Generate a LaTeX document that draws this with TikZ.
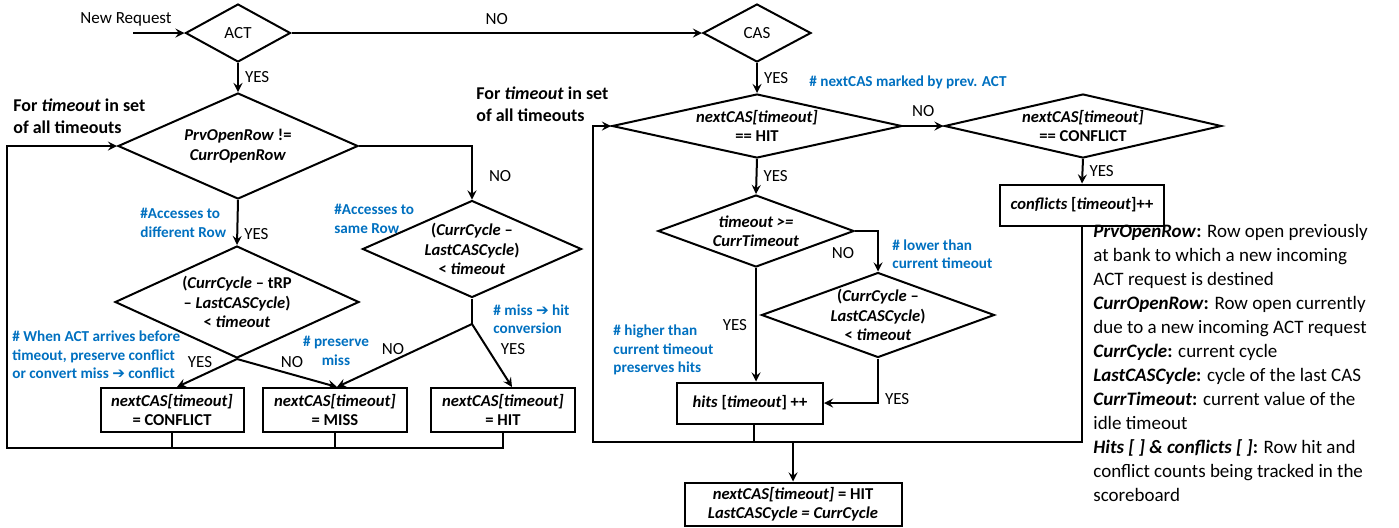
\documentclass[tikz,border=0pt]{standalone}
\usepackage{fontspec}
\setmainfont{Carlito}
\newfontfamily\symfont{DejaVu Sans}
\usetikzlibrary{shapes.geometric}
\definecolor{noteblue}{RGB}{0,112,192}
\newcommand{\harrow}{{\symfont\bfseries ➔}}
\tikzset{
  decision/.style n args={3}{diamond, draw, line width=1pt, inner sep=-6pt, align=center,
    minimum width=#1pt, minimum height=#2pt, aspect=#3,
    font=\fontsize{8.3}{9.75}\selectfont\bfseries},
  process/.style={rectangle, draw, line width=1pt, inner sep=1pt, align=center,
    font=\fontsize{8.3}{9.75}\selectfont\bfseries},
  lbl/.style={font=\fontsize{8.5}{10}\selectfont, inner sep=0pt},
  note/.style={text=noteblue, align=left, inner sep=0pt,
    font=\fontsize{7.6}{9.25}\selectfont\bfseries},
  looptitle/.style={align=left, inner sep=0pt, font=\fontsize{9}{11}\selectfont\bfseries},
  link/.style={line width=1pt},
}
\begin{document}
\begin{tikzpicture}[x=0.5pt, y=-0.5pt, >=stealth]
\useasboundingbox (0,0) rectangle (1399,527);

% ACT branch
\node[lbl] (newreq) at (126,19) {New Request};
\coordinate (start) at (133,33);
\node[decision={52.5}{29}{1.81}, font=\fontsize{8.5}{10}\selectfont] (act) at (238,33) {ACT};
\node[decision={54}{29}{1.86}, font=\fontsize{8.5}{10}\selectfont] (cas) at (757,33) {CAS};

\node[looptitle, anchor=west] (forone) at (13,116) {For \textit{timeout} in set\\of all timeouts};
\node[decision={120}{53}{2.26}] (rowcmp) at (238,146)
  {\textit{PrvOpenRow} !=\\\textit{CurrOpenRow}};
\node[decision={122}{56}{2.18}] (actconf) at (237,302)
  {(\textit{CurrCycle} -- tRP\\-- \textit{LastCASCycle})\\< \textit{timeout}};
\node[decision={109.5}{48.5}{2.26}] (actsame) at (472,249)
  {(\textit{CurrCycle} --\\\textit{LastCASCycle})\\< \textit{timeout}};

\node[process, minimum width=71.5pt, minimum height=22pt] (confbox) at (172,410)
  {\textit{nextCAS[timeout]}\\= CONFLICT};
\node[process, minimum width=72pt, minimum height=22pt] (missbox) at (335,410)
  {\textit{nextCAS[timeout]}\\= MISS};
\node[process, minimum width=72pt, minimum height=22pt] (hitbox) at (503,410)
  {\textit{nextCAS[timeout]}\\= HIT};

\node[note, anchor=west] (ndiff) at (140,223) {\#Accesses to\\different Row};
\node[note, anchor=west] (nsame) at (334,219) {\#Accesses to\\same Row};
\node[note, anchor=west] (nbefore) at (12,355)
  {\# When ACT arrives before\\timeout, preserve conflict\\or convert miss \harrow{} conflict};
\node[note, align=center] (npres) at (336,351) {\# preserve\\miss};
\node[note, anchor=west] (nconv) at (493,319) {\# miss \harrow{} hit\\conversion};

\coordinate (split) at (472,324);
\coordinate (loopL) at (7,448);

\draw[link, ->] (start) -- (act.west);
\draw[link, ->] (act.east) -- (cas.west) node[lbl, midway, above=3.5pt] {NO};
\draw[link, ->] (act.south) -- (rowcmp.north) node[lbl, midway, right=3pt] {YES};
\draw[link, ->] (rowcmp.east) -| (actsame.north) node[lbl, pos=0.78, right=8pt] {NO};
\draw[link, ->] (rowcmp.south) -- (actconf.north) node[lbl, pos=0.75, right=3pt] {YES};
\draw[link, ->] (actconf.south) -- ([xshift=2.5pt]confbox.north);
\draw[link, ->] (actconf.south) -- ([xshift=1pt]missbox.north);
\draw[link] (actsame.south) -- (split);
\draw[link, ->] (split) -- ([xshift=1pt]missbox.north);
\draw[link, ->] (split) -- ([xshift=4.5pt]hitbox.north);
\node[lbl] at (200,362) {YES};
\node[lbl] at (292,362) {NO};
\node[lbl] at (393,349) {NO};
\node[lbl] at (513,349) {YES};

\draw[link] (confbox.south) -- (confbox.south |- loopL);
\draw[link] (missbox.south) -- (missbox.south |- loopL);
\draw[link, ->] (hitbox.south) |- (loopL) |- (rowcmp.west);

% CAS branch
\node[looptitle, anchor=west] (fortwo) at (476,104) {For \textit{timeout} in set\\of all timeouts};
\node[note, anchor=west] (nmarked) at (809,82) {\# nextCAS marked by prev. ACT};
\node[decision={145}{32}{4.53}] (hitcmp) at (757,126)
  {\textit{nextCAS[timeout]}\\== HIT};
\node[decision={138.5}{32}{4.33}] (conflcmp) at (1083,126)
  {\textit{nextCAS[timeout]}\\== CONFLICT};
\node[process, minimum width=82pt, minimum height=20.5pt] (conflinc) at (1082,205)
  {\textit{conflicts} [\textit{timeout}]++};
\node[decision={98}{36}{2.72}] (tocmp) at (756,231)
  {\textit{timeout >=}\\\textit{CurrTimeout}};
\node[decision={116.5}{42.5}{2.74}] (cascmp) at (878,315)
  {(\textit{CurrCycle} --\\\textit{LastCASCycle})\\< \textit{timeout}};
\node[process, minimum width=73pt, minimum height=20.5pt] (hitsinc) at (750,403)
  {\textit{hits} [\textit{timeout}] ++};
\node[process, minimum width=108.5pt, minimum height=21.5pt] (final) at (793,504)
  {\textit{nextCAS[timeout]} = HIT\\\textit{LastCASCycle = CurrCycle}};

\node[note, anchor=west] (nlower) at (892,254) {\# lower than\\current timeout};
\node[note, anchor=west] (nhigher) at (613,350) {\# higher than\\current timeout\\preserves hits};

\coordinate (loopB) at (593,442);

\draw[link, ->] (cas.south) -- (hitcmp.north) node[lbl, midway, right=3pt] {YES};
\draw[link, ->] (hitcmp.east) -- (conflcmp.west) node[lbl, midway, above=4pt] {NO};
\draw[link, ->] (conflcmp.south) -- (conflinc.north) node[lbl, midway, right=3pt] {YES};
\draw[link, ->] (hitcmp.south) -- (tocmp.north) node[lbl, midway, right=3pt] {YES};
\draw[link, ->] (tocmp.east) -| (cascmp.north);
\node[lbl] at (843,253) {NO};
\draw[link, ->] (tocmp.south) -- (tocmp.south |- hitsinc.north) node[lbl, midway, left=4pt] {YES};
\draw[link, ->] (cascmp.south) |- (hitsinc.east) node[lbl, pos=0.45, right=3pt] {YES};

\draw[link] ([xshift=2pt]hitsinc.south) -- ([xshift=2pt]hitsinc.south |- loopB);
\draw[link, ->] (conflinc.south) |- (loopB) |- (hitcmp.west);
\draw[link, ->] (final.north |- loopB) -- (final.north);

% legend
\node[anchor=north west, align=left, inner sep=0pt, font=\fontsize{9.5}{12}\selectfont] (legend) at (1093,224)
  {\textbf{\textit{PrvOpenRow}:} Row open previously\\
   at bank to which a new incoming\\
   ACT request is destined\\
   \textbf{\textit{CurrOpenRow}:} Row open currently\\
   due to a new incoming ACT request\\
   \textbf{\textit{CurrCycle}:} current cycle\\
   \textbf{\textit{LastCASCycle}:} cycle of the last CAS\\
   \textbf{\textit{CurrTimeout}:} current value of the\\
   idle timeout\\
   \textbf{\textit{Hits [ ] \& conflicts [ ]}:} Row hit and\\
   conflict counts being tracked in the\\
   scoreboard};
\end{tikzpicture}
\end{document}
